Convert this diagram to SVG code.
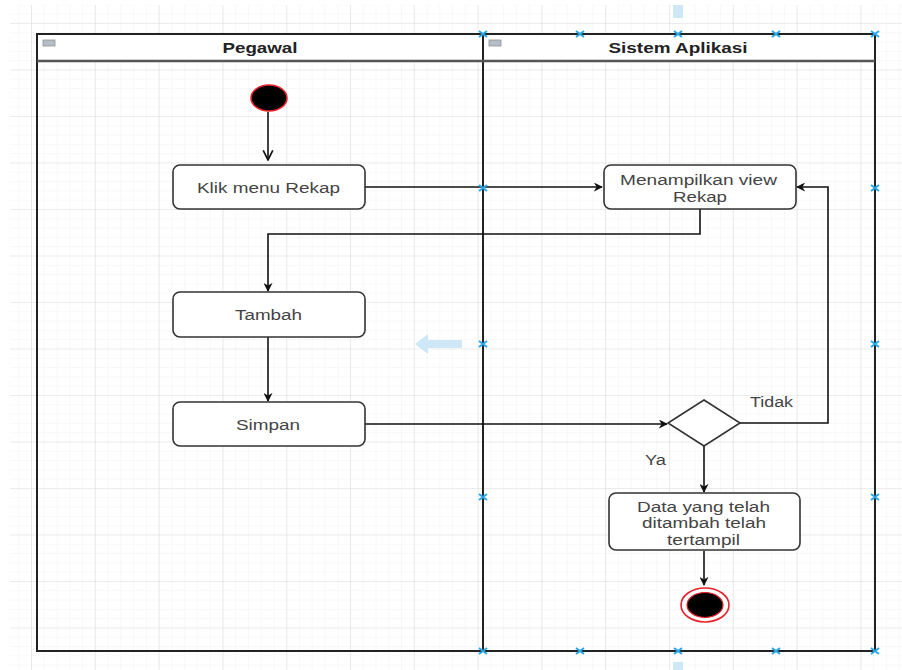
<svg xmlns="http://www.w3.org/2000/svg" width="902" height="670" viewBox="0 0 902 670">
<style>
.lane{fill:none;stroke:#222;stroke-width:2}
.hdr{fill:#fff;stroke:#222;stroke-width:2}
.hsep{stroke:#555;stroke-width:2.5}
.ttl{font-family:"Liberation Sans",Arial,sans-serif;font-size:14px;font-weight:bold;fill:#222;text-anchor:middle}
.box{fill:#fff;stroke:#333;stroke-width:1.6}
.lbl{font-family:"Liberation Sans",Arial,sans-serif;font-size:14px;fill:#444;text-anchor:middle}
.edge{fill:none;stroke:#111;stroke-width:1.6}
.mk{stroke:#29a6e6;stroke-width:2}
.hint{fill:#cfe8f8}
</style>
<defs>
<pattern id="minor" x="31" y="23" width="12.76" height="9.3" patternUnits="userSpaceOnUse">
<path d="M0,0 V9.3 M0,0 H12.76" fill="none" stroke="#f1f1f1" stroke-width="1"/>
</pattern>
<pattern id="major" x="31" y="23" width="63.8" height="46.5" patternUnits="userSpaceOnUse">
<path d="M0,0 V46.5 M0,0 H63.8" fill="none" stroke="#e0e0e0" stroke-width="1.2"/>
</pattern>
<marker id="arr" viewBox="0 0 10 10" refX="9" refY="5" markerWidth="9" markerHeight="9" orient="auto" markerUnits="userSpaceOnUse">
<path d="M0,0 L10,5 L0,10 L3,5 z" fill="#111"/>
</marker>
<marker id="open" viewBox="0 0 10 10" refX="9" refY="5" markerWidth="12" markerHeight="12" orient="auto" markerUnits="userSpaceOnUse">
<path d="M1,1 L9,5 L1,9" fill="none" stroke="#111" stroke-width="1.4"/>
</marker>
<g id="xm"><path class="mk" d="M-4,-3 L4,3 M-4,3 L4,-3"/></g>
</defs>
<rect width="902" height="670" fill="#fff"/>
<rect x="10" y="5" width="892" height="665" fill="url(#minor)"/>
<rect x="10" y="5" width="892" height="665" fill="url(#major)"/>
<!-- hover hints -->
<rect class="hint" x="673" y="5" width="10" height="13"/>
<rect class="hint" x="673" y="662" width="10" height="8"/>
<path class="hint" d="M415,344 L428,334 L428,340 L462,340 L462,348 L428,348 L428,354 z"/>
<!-- pool -->
<g id="lane-pegawal">
<rect class="hdr" x="37" y="34" width="446" height="27"/>
<rect class="lane" x="37" y="34" width="446" height="617"/>
<rect x="43" y="40" width="12" height="6" fill="#b8bec6" stroke="#8a939c" stroke-width="0.8"/>
<text class="ttl" x="260" y="53" textLength="75" lengthAdjust="spacingAndGlyphs">Pegawal</text>
</g>
<g id="lane-sistem">
<rect class="hdr" x="483" y="34" width="392" height="27"/>
<rect class="lane" x="483" y="34" width="392" height="617"/>
<rect x="489" y="40" width="12" height="6" fill="#b8bec6" stroke="#8a939c" stroke-width="0.8"/>
<text class="ttl" x="678" y="53" textLength="139" lengthAdjust="spacingAndGlyphs">Sistem Aplikasi</text>
</g>
<line class="hsep" x1="37" y1="61" x2="875" y2="61"/>
<!-- connectors -->
<g id="connectors">
<path class="edge" d="M268,112 V160" marker-end="url(#open)"/>
<path class="edge" d="M365,187 H602" marker-end="url(#arr)"/>
<path class="edge" d="M700,209 V234 H268 V291" marker-end="url(#arr)"/>
<path class="edge" d="M268,337 V401" marker-end="url(#arr)"/>
<path class="edge" d="M365,424 H667" marker-end="url(#arr)"/>
<path class="edge" d="M740,423 H828 V187 H797" marker-end="url(#arr)"/>
<path class="edge" d="M704,446 V492" marker-end="url(#arr)"/>
<path class="edge" d="M704,551 V585" marker-end="url(#arr)"/>
<text class="lbl" x="771.5" y="407" textLength="43" lengthAdjust="spacingAndGlyphs">Tidak</text>
<text class="lbl" x="655.5" y="465" textLength="21" lengthAdjust="spacingAndGlyphs">Ya</text>
</g>
<!-- nodes -->
<g id="start"><ellipse cx="269" cy="98" rx="18" ry="13" fill="#000" stroke="#e8202a" stroke-width="1.6"/></g>
<g id="klik"><rect class="box" x="173" y="165" width="192" height="44" rx="7"/><text class="lbl" x="268.5" y="193" textLength="143" lengthAdjust="spacingAndGlyphs">Klik menu Rekap</text></g>
<g id="menampilkan"><rect class="box" x="604" y="165" width="192" height="44" rx="7"/><text class="lbl" x="698.5" y="185" textLength="157" lengthAdjust="spacingAndGlyphs">Menampilkan view</text><text class="lbl" x="700" y="202" textLength="54" lengthAdjust="spacingAndGlyphs">Rekap</text></g>
<g id="tambah"><rect class="box" x="173" y="292" width="192" height="45" rx="7"/><text class="lbl" x="268.5" y="320" textLength="67" lengthAdjust="spacingAndGlyphs">Tambah</text></g>
<g id="simpan"><rect class="box" x="173" y="402" width="192" height="44" rx="7"/><text class="lbl" x="268" y="430" textLength="64" lengthAdjust="spacingAndGlyphs">Simpan</text></g>
<g id="decision"><path class="box" d="M704,400 L740,423 L704,446 L668,423 z"/></g>
<g id="data"><rect class="box" x="609" y="493" width="191" height="57" rx="7"/><text class="lbl" x="703.5" y="512" textLength="133" lengthAdjust="spacingAndGlyphs">Data yang telah</text><text class="lbl" x="704" y="528" textLength="124" lengthAdjust="spacingAndGlyphs">ditambah telah</text><text class="lbl" x="703.5" y="545" textLength="73" lengthAdjust="spacingAndGlyphs">tertampil</text></g>
<g id="end"><ellipse cx="705" cy="605" rx="24" ry="17" fill="#fff" stroke="#e8202a" stroke-width="1.6"/><ellipse cx="705" cy="605" rx="18" ry="12.5" fill="#000" stroke="#e8202a" stroke-width="1.2"/></g>
<!-- handles -->
<g id="handles">
<use href="#xm" x="483" y="34"/><use href="#xm" x="580" y="34"/><use href="#xm" x="678" y="34"/><use href="#xm" x="776" y="34"/><use href="#xm" x="875" y="34"/>
<use href="#xm" x="875" y="188"/><use href="#xm" x="875" y="344"/><use href="#xm" x="875" y="497"/><use href="#xm" x="875" y="651"/>
<use href="#xm" x="483" y="188"/><use href="#xm" x="483" y="344"/><use href="#xm" x="483" y="497"/><use href="#xm" x="483" y="651"/>
<use href="#xm" x="580" y="651"/><use href="#xm" x="678" y="651"/><use href="#xm" x="776" y="651"/>
</g>
</svg>
